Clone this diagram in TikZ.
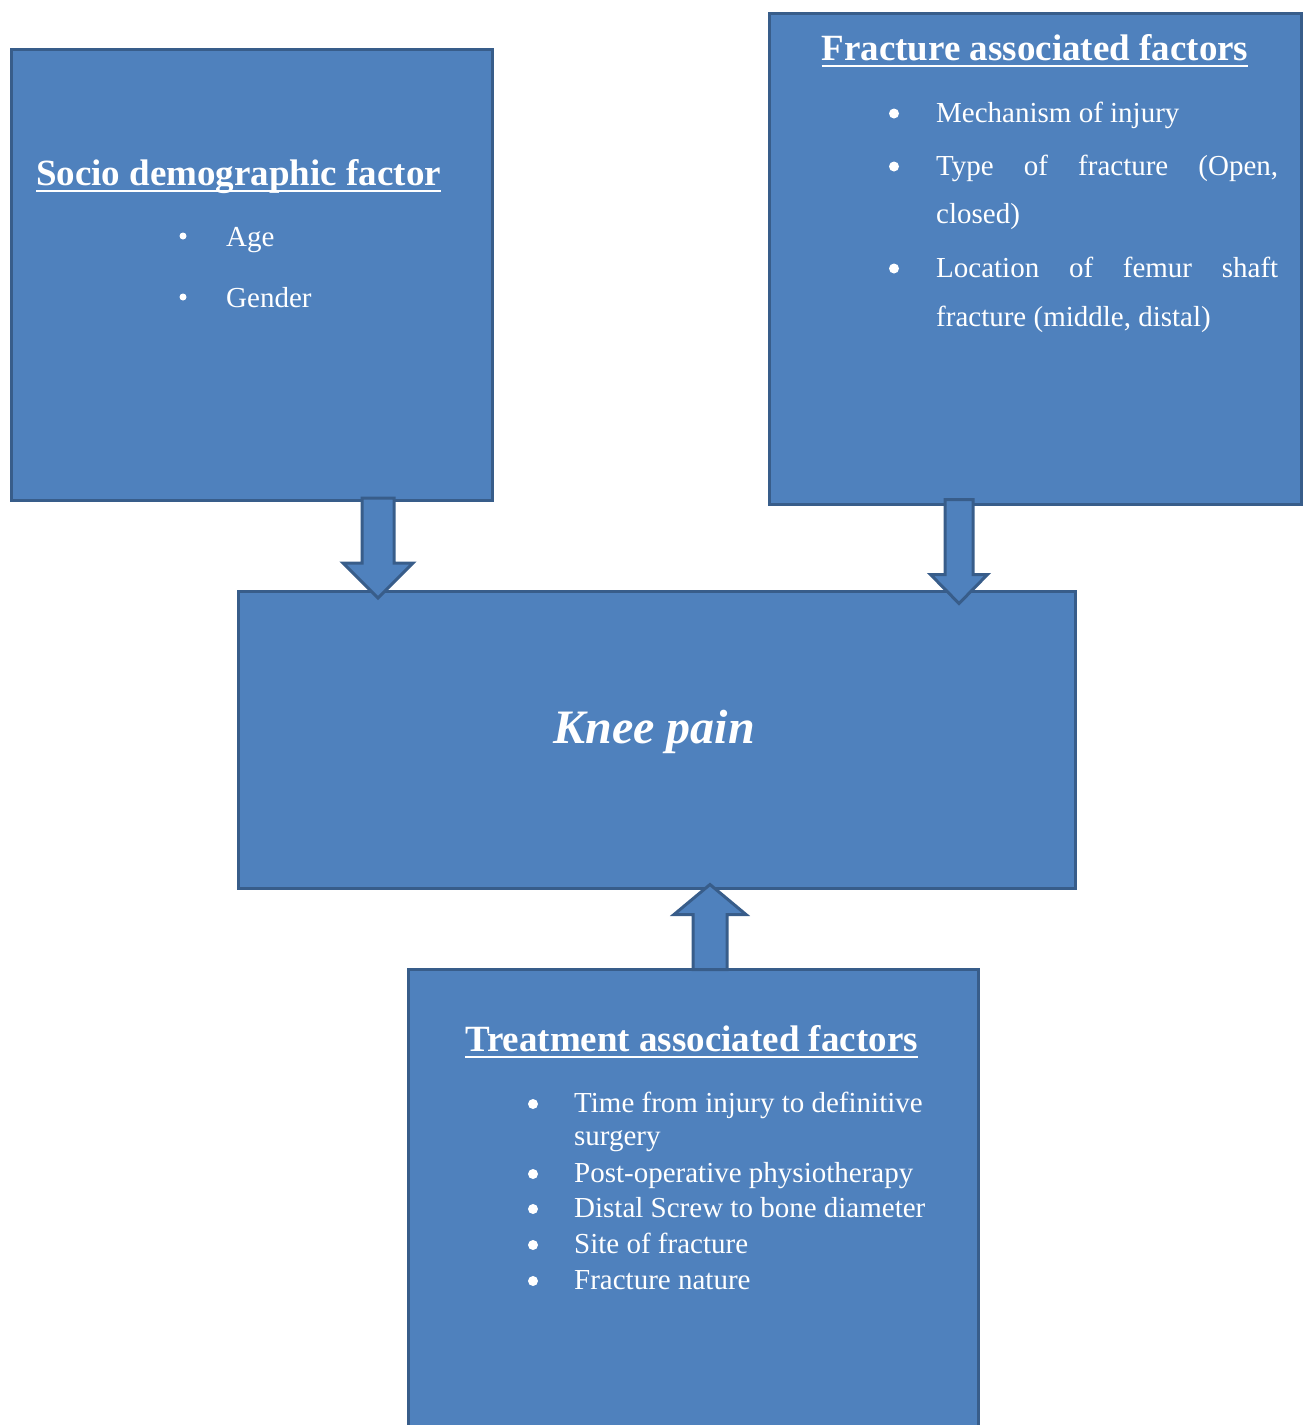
\documentclass[tikz,border=0pt]{standalone}
\usepackage{fontspec}
\setmainfont{Liberation Serif}
\usepackage{tikz}
\usetikzlibrary{positioning}
\definecolor{boxfill}{HTML}{4F81BD}
\definecolor{boxline}{HTML}{385D8A}
\tikzset{
  box/.style={draw=boxline, fill=boxfill, line width=3pt, anchor=north west, inner sep=0pt},
  head/.style={text=white, font=\fontsize{37}{44}\selectfont\bfseries, inner sep=0pt, anchor=base},
  item/.style={text=white, font=\fontsize{29}{35}\selectfont, inner sep=0pt, anchor=base west},
  bulletdot/.style={circle, fill=white, inner sep=0pt, minimum size=#1},
  blockarrow/.style={draw=boxline, fill=boxfill, line width=3pt, line join=miter},
}
\newcommand{\ulhead}[1]{\setbox0\hbox{#1}\rlap{\rule[-7pt]{\wd0}{2.5pt}}\box0}

\begin{document}
\begin{tikzpicture}[x=1pt, y=-1pt]
    \useasboundingbox (0,0) rectangle (1302,1425);

    % boxes
    \node[box, minimum width=481, minimum height=451] (socio) at (10,48) {};
    \node[box, minimum width=532, minimum height=491] (fracture) at (768,12) {};
    \node[box, minimum width=837, minimum height=297] (knee) at (237,590) {};
    \node[box, minimum width=570, minimum height=470] (treat) at (407,968) {};

    % socio demographic
    \node[head] (sociohead) at (238.5,185) {\ulhead{Socio demographic factor}};
    \foreach \y/\t [count=\i] in {246/Age, 307/Gender} {
        \node[bulletdot=7pt] (sociodot\i) at (183,\y-10) {};
        \node[item] (socioitem\i) at (226,\y) {\t};
    }

    % fracture
    \node[head] (frachead) at (1035,60) {\ulhead{Fracture associated factors}};
    \foreach \y [count=\i] in {122, 175, 277} {
        \node[bulletdot=10pt] (fracdot\i) at (894,\y-8.5) {};
    }
    \node[item] (fracitem1) at (936,122) {Mechanism of injury};
    \node[item] (fracitem2) at (936,175) {\makebox[342pt][s]{Type of fracture (Open,}};
    \node[item] (fracitem2b) at (936,223) {closed)};
    \node[item] (fracitem3) at (936,277) {\makebox[342pt][s]{Location of femur shaft}};
    \node[item] (fracitem3b) at (936,326) {fracture (middle, distal)};

    % knee pain
    \node[text=white, font=\fontsize{48}{56}\selectfont\bfseries\itshape, inner sep=0pt, anchor=base] (kneetext) at (654,743) {Knee pain};

    % treatment
    \node[head] (treathead) at (691.5,1051) {\ulhead{Treatment associated factors}};
    \foreach \y [count=\i] in {1112, 1182, 1217, 1253, 1289} {
        \node[bulletdot=10pt] (treatdot\i) at (533,\y-8) {};
    }
    \node[item] (treatitem1) at (574,1112) {Time from injury to definitive};
    \node[item] (treatitem1b) at (574,1145) {surgery};
    \node[item] (treatitem2) at (574,1182) {Post-operative physiotherapy};
    \node[item] (treatitem3) at (574,1217) {Distal Screw to bone diameter};
    \node[item] (treatitem4) at (574,1253) {Site of fracture};
    \node[item] (treatitem5) at (574,1289) {Fracture nature};

    % block arrows
    \coordinate (sociotail) at (socio.south -| 378,0);
    \coordinate (fractail) at (fracture.south -| 959,0);
    \coordinate (treattail) at (treat.north -| 710,0);
    \draw[blockarrow] (sociotail) ++(-16,-4) -- ++(32,0) -- ++(0,65) -- ++(19,0) -- ++(-35,35) -- ++(-35,-35) -- ++(19,0) -- cycle;
    \draw[blockarrow] (fractail) ++(-14,-6.5) -- ++(28,0) -- ++(0,75) -- ++(14.5,0) -- ++(-28.5,29) -- ++(-28.5,-29) -- ++(14.5,0) -- cycle;
    \draw[blockarrow] (treattail) ++(-17,1.5) -- ++(34,0) -- ++(0,-55) -- ++(19,0) -- ++(-36,-30) -- ++(-36,30) -- ++(19,0) -- cycle;
\end{tikzpicture}
\end{document}
